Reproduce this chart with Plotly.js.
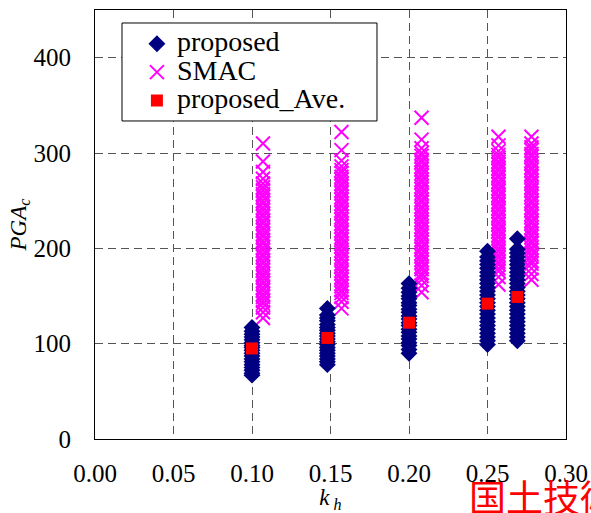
<!DOCTYPE html>
<html>
<head>
<meta charset="utf-8">
<script src="https://cdn.plot.ly/plotly-3.0.1.min.js"></script>
<style>html,body{margin:0;padding:0;background:#fff;}#chart{width:591px;height:513px;}</style>
</head>
<body>
<div id="chart"></div>
<script>
// Group positions (k_h) for each series
const propKh = [0.100, 0.148, 0.200, 0.250, 0.269];
const smacKh = [0.107, 0.157, 0.208, 0.257, 0.278];
const aveKh  = [0.100, 0.148, 0.200, 0.250, 0.269];

// proposed PGA_c values per group
const prop1 = [117, 113, 110, 107, 104, 101, 98, 96, 93, 90, 87, 84, 81, 78, 75, 72, 69, 67];
const prop2 = [137, 130, 127, 124, 120, 117, 114, 111, 108, 105, 102, 99, 96, 93, 90, 87, 84, 81, 78];
const prop3 = [163, 158, 154, 150, 147, 143, 140, 136, 133, 129, 126, 122, 119, 115, 112, 108, 105, 101, 98, 94, 90];
const prop4 = [197, 191, 187, 183, 179, 175, 171, 167, 163, 159, 155, 151, 147, 143, 139, 135, 131, 127, 123, 119, 115, 111, 107, 103, 99];
const prop5 = [210, 199, 195, 191, 187, 183, 179, 175, 171, 167, 163, 159, 155, 151, 147, 143, 139, 135, 131, 127, 123, 119, 115, 111, 107, 103];

// SMAC PGA_c values per group
const smac1 = [310, 291, 280, 273, 268, 264, 261, 257, 254, 250, 247, 243, 240, 236, 233, 229, 226, 222, 219, 215, 212, 208, 205, 201, 198, 194, 191, 187, 184, 180, 177, 173, 170, 166, 163, 159, 156, 152, 149, 145, 142, 138, 133, 127];
const smac2 = [322, 303, 292, 286, 282, 279, 275, 272, 268, 265, 261, 258, 254, 251, 247, 244, 240, 237, 233, 230, 226, 223, 219, 216, 212, 209, 205, 202, 198, 195, 191, 188, 184, 181, 177, 174, 170, 167, 163, 160, 156, 153, 149, 144, 137];
const smac3 = [337, 314, 305, 300, 297, 293, 290, 286, 283, 279, 276, 272, 269, 265, 262, 258, 255, 251, 248, 244, 241, 237, 234, 230, 227, 223, 220, 216, 213, 209, 206, 202, 199, 195, 192, 188, 185, 181, 178, 174, 171, 167, 161, 154];
const smac4 = [317, 308, 302, 298, 295, 291, 288, 284, 281, 277, 274, 270, 267, 263, 260, 256, 253, 249, 246, 242, 239, 235, 232, 228, 225, 221, 218, 214, 211, 207, 204, 200, 197, 193, 190, 186, 183, 179, 176, 170, 162];
const smac5 = [317, 310, 306, 303, 299, 296, 292, 289, 285, 282, 278, 275, 271, 268, 264, 261, 257, 254, 250, 247, 243, 240, 236, 233, 229, 226, 222, 219, 215, 212, 208, 205, 201, 198, 194, 191, 187, 184, 179, 173, 167];

// proposed average
const aveVals = [95, 106, 122, 142, 149];

const xTicks = [0, 0.05, 0.10, 0.15, 0.20, 0.25, 0.30];
const yTicks = [0, 100, 200, 300, 400];
const seriesNames = ['proposed', 'SMAC', 'proposed_Ave.'];

function flatten(kh, groups) {
  const xs = [], ys = [];
  groups.forEach((g, i) => g.forEach(v => { xs.push(kh[i]); ys.push(v); }));
  return {x: xs, y: ys};
}
const propData = flatten(propKh, [prop1, prop2, prop3, prop4, prop5]);
const smacData = flatten(smacKh, [smac1, smac2, smac3, smac4, smac5]);

const serif = "'Liberation Serif', 'Times New Roman', serif";
const legName = s => '<span style="font-size:28px">' + s + '</span>';

const traces = [
  {
    type: 'scatter', mode: 'markers', name: legName(seriesNames[1]),
    x: smacData.x, y: smacData.y, legendrank: 2,
    marker: {symbol: 'x-thin', size: 14, color: '#ff00ff', line: {width: 2, color: '#ff00ff'}}
  },
  {
    type: 'scatter', mode: 'markers', name: legName(seriesNames[0]),
    x: propData.x, y: propData.y, legendrank: 1,
    marker: {symbol: 'diamond', size: 13, color: '#000080', line: {width: 0}}
  },
  {
    type: 'scatter', mode: 'markers', name: legName(seriesNames[2]),
    x: aveKh, y: aveVals, legendrank: 3,
    marker: {symbol: 'square', size: 12, color: '#ff0000', line: {width: 0}}
  }
];

const layout = {
  width: 591, height: 513,
  margin: {l: 95, r: 25, t: 10, b: 74},
  paper_bgcolor: '#fff', plot_bgcolor: '#fff',
  font: {family: serif, color: '#000', size: 24},
  showlegend: true,
  legend: {
    x: 0.089, y: 0.966, xanchor: 'left', yanchor: 'top',
    bgcolor: 'rgba(0,0,0,0)', borderwidth: 0,
    font: {family: serif, size: 19.5, color: '#000'},
    tracegroupgap: 0, itemwidth: 30
  },
  shapes: [{
    type: 'rect', xref: 'paper', yref: 'paper', layer: 'above',
    x0: 0.0573, x1: 0.5987, y0: 0.7413, y1: 0.9697,
    fillcolor: '#fff', line: {color: '#000', width: 1}
  }],
  xaxis: {
    range: [0, 0.30], tickvals: xTicks, tickformat: '.2f',
    showline: true, linecolor: '#000', linewidth: 1, mirror: true,
    showgrid: true, gridcolor: '#555', gridwidth: 1, griddash: '8px,5px',
    zeroline: false, ticks: '', ticklabelstandoff: 12,
    tickfont: {family: serif, size: 25},
    title: {text: '<i>k</i><sub><i> h</i></sub>', font: {family: serif, size: 23}, standoff: 8}
  },
  yaxis: {
    range: [0, 450], tickvals: yTicks,
    showline: true, linecolor: '#000', linewidth: 1, mirror: true,
    showgrid: true, gridcolor: '#555', gridwidth: 1, griddash: '8px,5px',
    zeroline: false, ticks: '', ticklabelstandoff: 18,
    tickfont: {family: serif, size: 25},
    title: {text: '<i>PGA</i><sub><i>c</i></sub>', font: {family: serif, size: 23}, standoff: 0}
  },
  annotations: [{
    text: '国土技術', xref: 'paper', yref: 'paper',
    x: 0.790, y: -0.133, xanchor: 'left', yanchor: 'middle',
    showarrow: false,
    font: {family: 'Noto Sans CJK JP', size: 37, color: '#ff0000'}
  }]
};

Plotly.newPlot('chart', traces, layout, {displayModeBar: false, staticPlot: true});
</script>
</body>
</html>
